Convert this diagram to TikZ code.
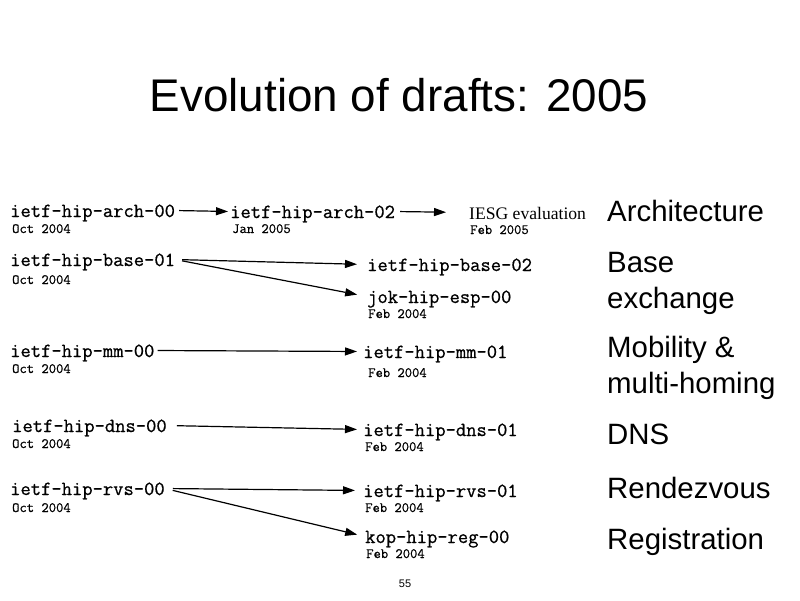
\documentclass[tikz,border=0pt]{standalone}
\usepackage{fontspec}
\setmainfont{Liberation Sans}
\setmonofont[FakeBold=0.7]{Latin Modern Mono}
\newfontfamily\seriffont{Liberation Serif}
\usetikzlibrary{arrows.meta}
\begin{document}
\begin{tikzpicture}[x=1pt,y=-1pt,
  draft/.style={anchor=base west,inner sep=0pt,text height=13pt,text depth=0pt,font=\ttfamily\fontsize{20}{22}\selectfont},
  datelbl/.style={anchor=base west,inner sep=0pt,font=\ttfamily\fontsize{14.2}{16}\selectfont},
  topic/.style={anchor=base west,inner sep=0pt,font=\fontsize{29.4}{36}\selectfont},
  link/.style={-{Triangle[length=12pt,width=8pt]},line width=1.2pt}]
\useasboundingbox (0,0) rectangle (800,600);
\node[anchor=base,inner sep=0pt,font=\fontsize{45.8}{50}\selectfont] (title) at (399,111) {Evolution of drafts: 2005};
% architecture
\node[draft] (arch00) at (10,217) {ietf-hip-arch-00};
\node[datelbl] (d1) at (12,233) {Oct 2004};
\node[draft] (arch02) at (230,218) {ietf-hip-arch-02};
\node[datelbl] (d2) at (232,233) {Jan 2005};
\node[anchor=base west,inner sep=0pt,text height=13pt,text depth=0pt,font=\seriffont\fontsize{17.6}{20}\selectfont] (iesg) at (469,219) {IESG evaluation};
\node[datelbl] (d3) at (470,234) {Feb 2005};
\node[topic] (tarch) at (607,221) {Architecture};
% base
\node[draft] (base01) at (10,266) {ietf-hip-base-01};
\node[datelbl] (d4) at (12,284) {Oct 2004};
\node[draft] (base02) at (367,271) {ietf-hip-base-02};
\node[draft] (esp00) at (367,303) {jok-hip-esp-00};
\node[datelbl] (d5) at (368,318) {Feb 2004};
\node[topic] (tbase) at (607,272) {Base};
\node[topic] (texch) at (607,308) {exchange};
% mm
\node[draft] (mm00) at (10,357) {ietf-hip-mm-00};
\node[datelbl] (d6) at (12,373) {Oct 2004};
\node[draft] (mm01) at (363,358) {ietf-hip-mm-01};
\node[datelbl] (d7) at (368,377) {Feb 2004};
\node[topic] (tmob) at (607,357) {Mobility \&};
\node[topic] (tmulti) at (607,393) {multi-homing};
% dns
\node[draft] (dns00) at (12,432) {ietf-hip-dns-00};
\node[datelbl] (d8) at (12,448) {Oct 2004};
\node[draft] (dns01) at (363,436) {ietf-hip-dns-01};
\node[datelbl] (d9) at (365,451) {Feb 2004};
\node[topic] (tdns) at (607,444) {DNS};
% rvs
\node[draft] (rvs00) at (10,495) {ietf-hip-rvs-00};
\node[datelbl] (d10) at (12,512) {Oct 2004};
\node[draft] (rvs01) at (363,497) {ietf-hip-rvs-01};
\node[datelbl] (d11) at (365,512) {Feb 2004};
\node[draft] (reg00) at (365,543) {kop-hip-reg-00};
\node[datelbl] (d12) at (366,558) {Feb 2004};
\node[topic] (trvs) at (607,498) {Rendezvous};
\node[topic] (treg) at (607,549) {Registration};
\node[anchor=base,inner sep=0pt,font=\fontsize{11}{13}\selectfont] (pg) at (405,587) {55};
% arrows
\draw[link,shorten <=4pt,shorten >=2pt] (arch00.east) -- (arch02.west);
\draw[link,shorten <=5pt,shorten >=23pt] (arch02.east) -- (iesg.west);
\draw[link,shorten <=7pt,shorten >=10pt] (base01.east) -- (base02.west);
\draw[link,shorten <=7pt,shorten >=10pt] (base01.east) -- (esp00.west);
\draw[link,shorten <=3pt,shorten >=6pt] (mm00.east) -- (mm01.west);
\draw[link,shorten <=10pt,shorten >=6pt] (dns00.east) -- (dns01.west);
\draw[link,shorten <=8pt,shorten >=8pt] (rvs00.east) -- (rvs01.west);
\draw[link,shorten <=8pt,shorten >=8pt] (rvs00.east) -- (reg00.west);
\end{tikzpicture}
\end{document}
